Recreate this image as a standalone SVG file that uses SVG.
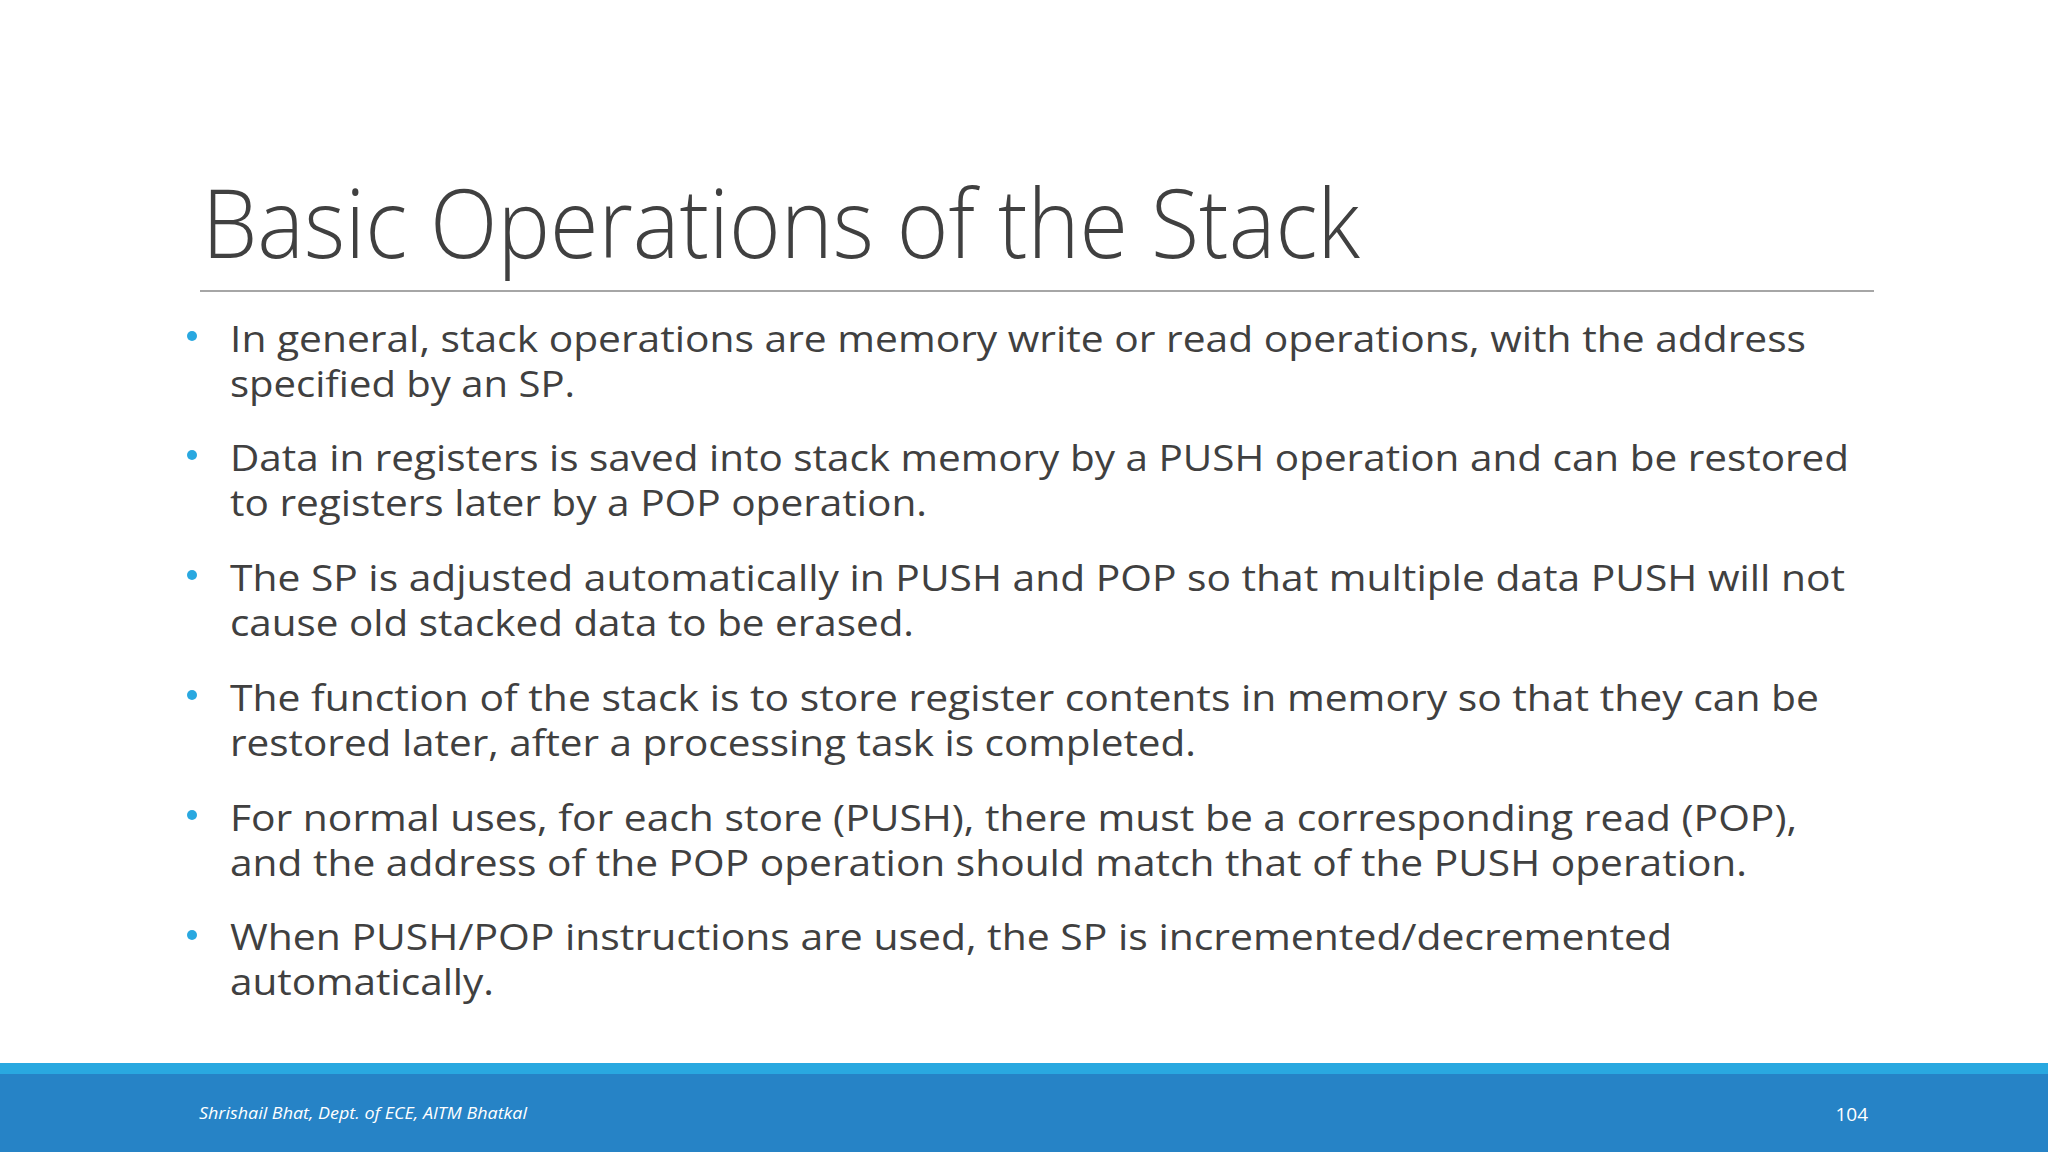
<svg xmlns="http://www.w3.org/2000/svg" width="2048" height="1152" viewBox="0 0 2048 1152">
<style>
.b{font-family:"Open Sans","Liberation Sans",sans-serif;font-size:36px;fill:#404040}
.d{fill:#29a8e0}
</style>
<rect width="2048" height="1152" fill="#ffffff"/>
<g id="title">
<text x="202" y="258" font-family="Open Sans, Liberation Sans, sans-serif" font-weight="300" font-size="96" fill="#404040" textLength="1158" lengthAdjust="spacingAndGlyphs">Basic Operations of the Stack</text>
<line x1="200" y1="291" x2="1874" y2="291" stroke="#a6a6a6" stroke-width="2"/>
</g>
<g id="bullets">
<circle class="d" cx="192" cy="336" r="5"/>
<circle class="d" cx="192" cy="455" r="5"/>
<circle class="d" cx="192" cy="575" r="5"/>
<circle class="d" cx="192" cy="695" r="5"/>
<circle class="d" cx="192" cy="815" r="5"/>
<circle class="d" cx="192" cy="935" r="5"/>
<text class="b" x="230" y="352" textLength="1576" lengthAdjust="spacingAndGlyphs">In general, stack operations are memory write or read operations, with the address</text>
<text class="b" x="230" y="397" textLength="345" lengthAdjust="spacingAndGlyphs">specified by an SP.</text>
<text class="b" x="230" y="471" textLength="1619" lengthAdjust="spacingAndGlyphs">Data in registers is saved into stack memory by a PUSH operation and can be restored</text>
<text class="b" x="230" y="516" textLength="697" lengthAdjust="spacingAndGlyphs">to registers later by a POP operation.</text>
<text class="b" x="230" y="591" textLength="1615" lengthAdjust="spacingAndGlyphs">The SP is adjusted automatically in PUSH and POP so that multiple data PUSH will not</text>
<text class="b" x="230" y="636" textLength="684" lengthAdjust="spacingAndGlyphs">cause old stacked data to be erased.</text>
<text class="b" x="230" y="711" textLength="1589" lengthAdjust="spacingAndGlyphs">The function of the stack is to store register contents in memory so that they can be</text>
<text class="b" x="230" y="756" textLength="966" lengthAdjust="spacingAndGlyphs">restored later, after a processing task is completed.</text>
<text class="b" x="230" y="831" textLength="1567" lengthAdjust="spacingAndGlyphs">For normal uses, for each store (PUSH), there must be a corresponding read (POP),</text>
<text class="b" x="230" y="876" textLength="1517" lengthAdjust="spacingAndGlyphs">and the address of the POP operation should match that of the PUSH operation.</text>
<text class="b" x="230" y="950" textLength="1442" lengthAdjust="spacingAndGlyphs">When PUSH/POP instructions are used, the SP is incremented/decremented</text>
<text class="b" x="230" y="995" textLength="264" lengthAdjust="spacingAndGlyphs">automatically.</text>
</g>
<g id="footer">
<rect x="0" y="1063" width="2048" height="11" fill="#29a8e0"/>
<rect x="0" y="1074" width="2048" height="78" fill="#2683c6"/>
<text x="199" y="1119" font-family="Open Sans, Liberation Sans, sans-serif" font-style="italic" font-size="17" fill="#ffffff" textLength="328" lengthAdjust="spacingAndGlyphs">Shrishail Bhat, Dept. of ECE, AITM Bhatkal</text>
<text x="1868" y="1121" text-anchor="end" font-family="Open Sans, Liberation Sans, sans-serif" font-size="19" fill="#ffffff">104</text>
</g>
</svg>
